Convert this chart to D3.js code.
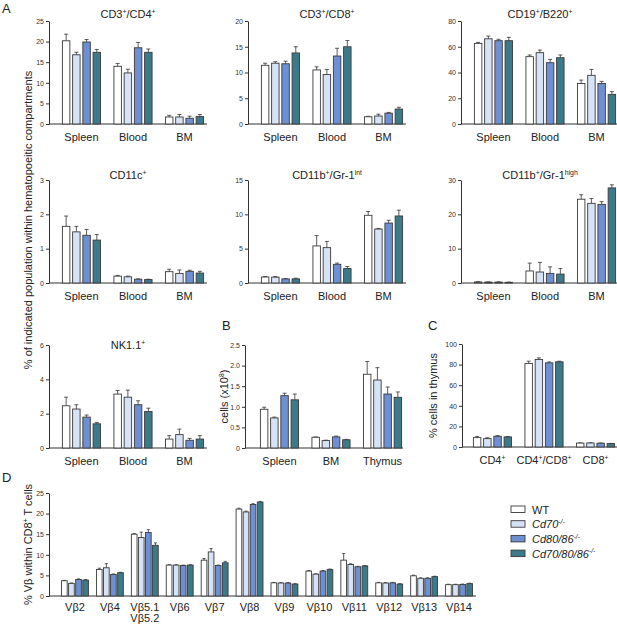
<!DOCTYPE html>
<html>
<head>
<meta charset="utf-8">
<script src="https://cdn.jsdelivr.net/npm/d3@7"></script>
<style>
  body { margin: 0; background: #fff; }
  text { font-family: "Liberation Sans", Arial, sans-serif; fill: #222; }
</style>
</head>
<body>
<div id="chart"></div>
<script>
// genotypes and categories
const genotypes = ["WT", "Cd70", "Cd80/86", "Cd70/80/86"];
const colors = ["#ffffff", "#d6e2f5", "#6e8fd2", "#3c7a8a"];
const organs = ["Spleen", "Blood", "BM"];
const cellOrgans = ["Spleen", "BM", "Thymus"];
const thymusSubsets = ["CD4^{+}", "CD4^{+}/CD8^{+}", "CD8^{+}"];
const vbetas = ["Vβ2", "Vβ4", "Vβ5.1", "Vβ6", "Vβ7", "Vβ8", "Vβ9", "Vβ10", "Vβ11", "Vβ12", "Vβ13", "Vβ14"];

// A: one row per organ, one value per genotype
const cd4Mean  = [[20.2, 16.8, 19.9, 17.4], [14.0, 12.4, 18.5, 17.4], [1.7, 1.7, 1.4, 1.8]];
const cd4Err   = [[1.6, 0.6, 0.6, 0.7], [0.7, 0.9, 1.3, 0.8], [0.4, 0.6, 0.5, 0.5]];
const cd8Mean  = [[11.4, 11.8, 11.7, 13.8], [10.5, 9.6, 13.2, 15.0], [1.4, 1.55, 2.1, 2.9]];
const cd8Err   = [[0.4, 0.3, 0.5, 1.2], [0.6, 1.0, 1.5, 1.2], [0.1, 0.35, 0.15, 0.35]];
const bMean    = [[62.6, 66.2, 64.7, 64.7], [52.3, 55.4, 47.6, 51.5], [31.5, 37.8, 31.5, 23.0]];
const bErr     = [[0.8, 2.1, 1.1, 2.6], [1.3, 2.0, 2.6, 2.1], [2.6, 4.6, 1.6, 2.1]];
const dcMean   = [[1.65, 1.49, 1.39, 1.25], [0.2, 0.18, 0.11, 0.1], [0.33, 0.28, 0.34, 0.29]];
const dcErr    = [[0.3, 0.16, 0.17, 0.16], [0.02, 0.02, 0.01, 0.01], [0.07, 0.1, 0.03, 0.05]];
const intMean  = [[0.87, 0.85, 0.6, 0.6], [5.4, 5.15, 2.72, 2.1], [9.86, 7.86, 8.73, 9.76]];
const intErr   = [[0.08, 0.1, 0.05, 0.1], [1.5, 0.9, 0.18, 0.3], [0.55, 0.09, 0.4, 0.85]];
const highMean = [[0.3, 0.25, 0.25, 0.2], [3.5, 3.2, 2.8, 2.6], [24.4, 23.2, 22.9, 27.7]];
const highErr  = [[0.1, 0.08, 0.08, 0.05], [2.3, 2.8, 1.9, 1.6], [1.3, 1.4, 0.8, 0.9]];
const nkMean   = [[2.46, 2.27, 1.8, 1.41], [3.14, 2.96, 2.52, 2.13], [0.52, 0.78, 0.45, 0.52]];
const nkErr    = [[0.5, 0.25, 0.12, 0.08], [0.21, 0.41, 0.23, 0.19], [0.2, 0.32, 0.11, 0.2]];

// B: total cells (x10^8)
const cellMean = [[0.94, 0.73, 1.27, 1.17], [0.26, 0.18, 0.27, 0.2], [1.79, 1.65, 1.31, 1.23]];
const cellErr  = [[0.05, 0.02, 0.06, 0.14], [0.01, 0.01, 0.02, 0.01], [0.31, 0.3, 0.17, 0.13]];

// C: thymocyte subsets
const thyMean  = [[9.1, 8.1, 10.4, 9.8], [81.1, 85.0, 81.7, 82.7], [3.8, 3.9, 3.7, 3.3]];
const thyErr   = [[1.2, 0.9, 0.6, 0.4], [2.2, 1.5, 0.9, 0.6], [0.2, 0.2, 0.2, 0.2]];

// D: Vbeta usage within CD8+ T cells
const vbMean = [[3.7, 3.06, 4.0, 3.87], [6.45, 6.85, 5.24, 5.65], [15.0, 14.2, 15.4, 12.3],
                [7.5, 7.5, 7.4, 7.5], [8.7, 10.7, 7.4, 8.06], [21.1, 20.4, 22.2, 22.8],
                [3.2, 3.15, 3.15, 2.9], [6.05, 5.3, 6.05, 6.4], [8.7, 7.66, 7.1, 7.3],
                [3.2, 3.15, 3.2, 2.9], [4.9, 4.3, 4.3, 4.7], [2.75, 2.75, 2.8, 3.0]];
const vbErr  = [[0.1, 0.1, 0.15, 0.1], [0.3, 1.0, 0.1, 0.1], [0.15, 1.3, 0.7, 0.6],
                [0.1, 0.1, 0.1, 0.1], [0.4, 0.8, 0.1, 0.35], [0.2, 0.2, 0.2, 0.15],
                [0.1, 0.1, 0.1, 0.1], [0.15, 0.1, 0.15, 0.15], [1.6, 0.15, 0.1, 0.1],
                [0.1, 0.1, 0.1, 0.1], [0.15, 0.1, 0.1, 0.1], [0.1, 0.1, 0.1, 0.1]];

const width = 617;
const height = 625;

const svg = d3.select("#chart").append("svg")
    .attr("width", width)
    .attr("height", height);

// text with ^{...} superscripts and optional italics
function rich(sel, str, size, italic) {
  const parts = str.split(/\^\{([^}]*)\}/);
  let shift = 0;
  parts.forEach((p, i) => {
    if (!p) return;
    const sup = i % 2 === 1;
    const dy = sup ? -size * 0.4 : 0;
    sel.append("tspan")
      .attr("dy", dy - shift)
      .attr("font-size", sup ? size * 0.62 : size)
      .attr("font-style", italic ? "italic" : null)
      .text(p);
    shift = dy;
  });
}

function panel(cfg, cats, means, errs) {
  const g = svg.append("g");
  const y = d3.scaleLinear().domain([0, cfg.max]).range([cfg.y0, cfg.y1]);
  const x = d3.scaleBand().domain(cats)
      .range([cfg.ax + (cfg.bandOff || 0), cfg.ax + (cfg.bandOff || 0) + cfg.bandLen])
      .padding(cfg.pad);
  const xs = d3.scaleBand().domain(genotypes).range([0, x.bandwidth()]).paddingInner(cfg.subPad);

  // y axis
  g.append("g")
      .attr("transform", `translate(${cfg.ax},0)`)
      .call(d3.axisLeft(y).tickValues(cfg.ticks).tickSize(3).tickSizeOuter(0).tickPadding(2)
            .tickFormat(cfg.fmt || d3.format("d")))
      .call(a => a.selectAll("path, line").attr("stroke", "#333"))
      .call(a => a.selectAll("text").attr("font-size", 7).style("fill", "#333")
            .attr("font-family", "Liberation Sans, Arial, sans-serif"));

  // x axis line
  g.append("line")
      .attr("x1", cfg.ax).attr("x2", cfg.ax + cfg.len)
      .attr("y1", cfg.y0).attr("y2", cfg.y0)
      .attr("stroke", "#333");

  const cellCap = Math.min(4, xs.bandwidth() * 0.55);

  cats.forEach((c, ci) => {
    const grp = g.append("g").attr("transform", `translate(${x(c)},0)`);
    genotypes.forEach((gt, gi) => {
      const v = means[ci][gi], e = errs[ci][gi];
      const bx = xs(gt), bw = xs.bandwidth();
      const cx = bx + bw / 2;
      grp.append("line")
          .attr("x1", cx).attr("x2", cx)
          .attr("y1", y(v)).attr("y2", y(v + e))
          .attr("stroke", "#333").attr("stroke-width", 0.8);
      grp.append("line")
          .attr("x1", cx - cellCap / 2).attr("x2", cx + cellCap / 2)
          .attr("y1", y(v + e)).attr("y2", y(v + e))
          .attr("stroke", "#333").attr("stroke-width", 0.8);
      grp.append("rect")
          .attr("x", bx).attr("width", bw)
          .attr("y", y(v)).attr("height", y(0) - y(v))
          .attr("fill", colors[gi])
          .attr("stroke", "#3a3a3a").attr("stroke-width", 0.9);
    });
    const lines = (cfg.labels ? cfg.labels[ci] : c).split("\n");
    lines.forEach((ln, li) => {
      const t = g.append("text")
          .attr("x", x(c) + x.bandwidth() / 2)
          .attr("y", cfg.y0 + cfg.labOff + li * 11)
          .attr("text-anchor", "middle");
      rich(t, ln, 11);
    });
  });

  if (cfg.title) {
    const t = g.append("text")
        .attr("x", cfg.ax + cfg.len / 2)
        .attr("y", cfg.titleY)
        .attr("text-anchor", "middle");
    rich(t, cfg.title, 11);
  }
  if (cfg.ylab) {
    const t = g.append("text")
        .attr("transform", `translate(${cfg.ylabX},${(cfg.y0 + cfg.y1) / 2}) rotate(-90)`)
        .attr("text-anchor", "middle");
    rich(t, cfg.ylab, 11);
  }
}

const cols = [49, 248, 461];
const rows = [{y0: 124, y1: 21, t: 18}, {y0: 283, y1: 180, t: 179}, {y0: 448, y1: 345, t: 349}];
const base = {len: 158, bandLen: 168, pad: 0.26, subPad: 0.27, labOff: 17};

panel({...base, ax: cols[0], y0: rows[0].y0, y1: rows[0].y1, titleY: rows[0].t, max: 25,
       ticks: [0, 5, 10, 15, 20, 25], title: "CD3^{+}/CD4^{+}"}, organs, cd4Mean, cd4Err);
panel({...base, ax: cols[1], y0: rows[0].y0, y1: rows[0].y1, titleY: rows[0].t, max: 20,
       ticks: [0, 5, 10, 15, 20], title: "CD3^{+}/CD8^{+}"}, organs, cd8Mean, cd8Err);
panel({...base, ax: cols[2], y0: rows[0].y0, y1: rows[0].y1, titleY: rows[0].t, max: 80,
       ticks: [0, 20, 40, 60, 80], title: "CD19^{+}/B220^{+}"}, organs, bMean, bErr);

panel({...base, ax: cols[0], y0: rows[1].y0, y1: rows[1].y1, titleY: rows[1].t, max: 3,
       ticks: [0, 1, 2, 3], title: "CD11c^{+}"}, organs, dcMean, dcErr);
panel({...base, ax: cols[1], y0: rows[1].y0, y1: rows[1].y1, titleY: rows[1].t, max: 15,
       ticks: [0, 5, 10, 15], title: "CD11b^{+}/Gr-1^{int}"}, organs, intMean, intErr);
panel({...base, ax: cols[2], y0: rows[1].y0, y1: rows[1].y1, titleY: rows[1].t, max: 30,
       ticks: [0, 10, 20, 30], title: "CD11b^{+}/Gr-1^{high}"}, organs, highMean, highErr);

panel({...base, ax: cols[0], y0: rows[2].y0, y1: rows[2].y1, titleY: rows[2].t, max: 6,
       ticks: [0, 2, 4, 6], title: "NK1.1^{+}"}, organs, nkMean, nkErr);
panel({...base, ax: 245, bandOff: 2, y0: rows[2].y0, y1: rows[2].y1, max: 2.5,
       ticks: [0, 0.5, 1, 1.5, 2, 2.5], fmt: d => d === 0 ? "0" : d3.format(".1f")(d),
       ylab: "cells (x10^{8})", ylabX: 228}, cellOrgans, cellMean, cellErr);
panel({...base, ax: 462, bandOff: -2, y0: 447, y1: 344, max: 100,
       ticks: [0, 20, 40, 60, 80, 100], ylab: "% cells in thymus", ylabX: 437},
      thymusSubsets, thyMean, thyErr);

panel({ax: 49, len: 427, bandOff: 4.5, bandLen: 427, pad: 0.23, subPad: 0.2, labOff: 15,
       y0: 596, y1: 493, max: 25, ticks: [0, 5, 10, 15, 20, 25],
       labels: vbetas.map(v => v === "Vβ5.1" ? "Vβ5.1\nVβ5.2" : v),
       ylab: "% Vβ within CD8^{+} T cells", ylabX: 32}, vbetas, vbMean, vbErr);

// shared y label for A
const yl = svg.append("text")
    .attr("transform", "translate(32,220) rotate(-90)")
    .attr("text-anchor", "middle");
rich(yl, "% of indicated population within hematopoeitic compartments", 11);

// panel letters
[["A", 2, 13], ["B", 222, 330], ["C", 428, 330], ["D", 2, 482]].forEach(([l, x, y]) => {
  svg.append("text").attr("x", x).attr("y", y).attr("font-size", 13).text(l);
});

// legend
const legendLabels = ["WT", "Cd70^{-/-}", "Cd80/86^{-/-}", "Cd70/80/86^{-/-}"];
const leg = svg.append("g").attr("transform", "translate(511,506)");
legendLabels.forEach((l, i) => {
  leg.append("rect")
      .attr("x", 0).attr("y", i * 14.7).attr("width", 14).attr("height", 6.5)
      .attr("fill", colors[i]).attr("stroke", "#3a3a3a").attr("stroke-width", 0.9);
  const t = leg.append("text").attr("x", 21).attr("y", i * 14.7 + 7.5);
  rich(t, l, 11, i > 0);
});
</script>
</body>
</html>
